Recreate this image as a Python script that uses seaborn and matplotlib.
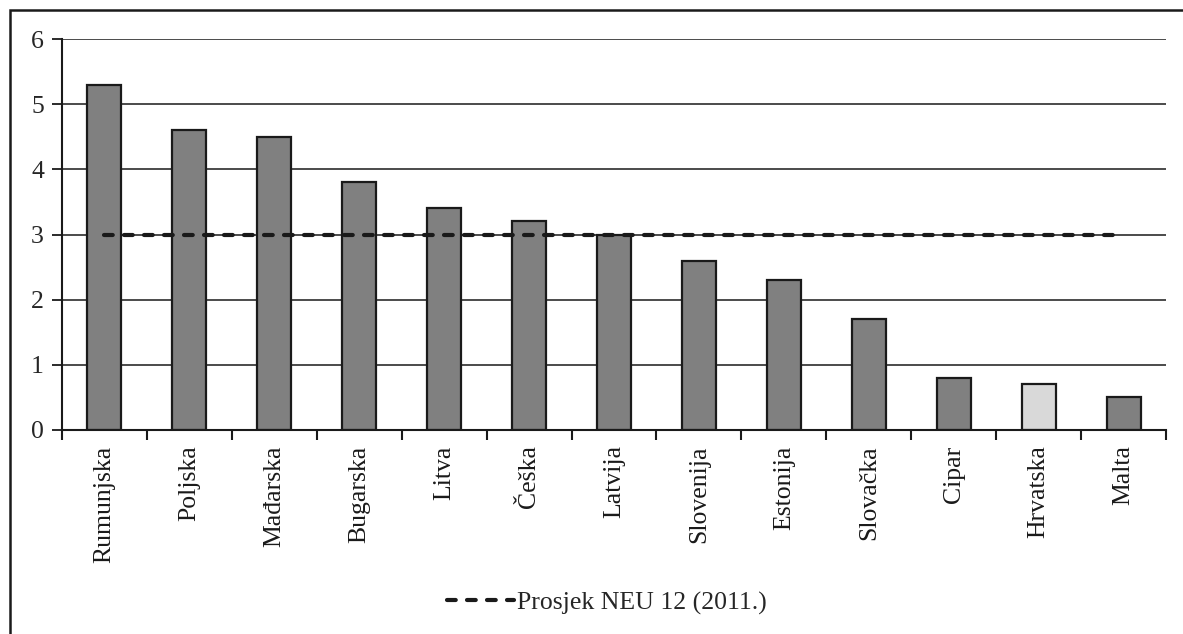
import matplotlib
matplotlib.use("Agg")
import matplotlib.pyplot as plt
import seaborn as sns
import numpy as np
from matplotlib.patches import Rectangle
from matplotlib.ticker import FixedLocator

countries = ["Rumunjska", "Poljska", "Mađarska", "Bugarska", "Litva", "Češka",
             "Latvija", "Slovenija", "Estonija", "Slovačka", "Cipar", "Hrvatska", "Malta"]
values = [5.3, 4.6, 4.5, 3.8, 3.4, 3.2, 3.0, 2.6, 2.3, 1.7, 0.8, 0.7, 0.5]
average = [3.0] * len(countries)
legend_label = "Prosjek NEU 12 (2011.)"
yticks = [0, 1, 2, 3, 4, 5, 6]

sns.set_theme(style="white")
plt.rcParams['font.family'] = ['Liberation Serif', 'DejaVu Serif']
plt.rcParams['font.size'] = 18.5

fig = plt.figure(figsize=(11.83, 6.34), dpi=100)
ax = fig.add_axes([62/1183, 1-430/634, (1166-62)/1183, (430-39)/634])

bar_colors = {c: ("#d9d9d9" if c == "Hrvatska" else "#808080") for c in countries}
sns.barplot(x=countries, y=values, hue=countries, palette=bar_colors, legend=False,
            width=0.4, edgecolor="#1a1a1a", linewidth=1.6, ax=ax, zorder=3)

avg_line, = ax.plot(np.arange(len(countries)), average, color="#1a1a1a", lw=3.0,
                    linestyle=(0, (2.1, 2.7)), dash_capstyle="round", zorder=4,
                    label=legend_label)

ax.set_ylim(0, 6)
ax.set_xlim(-0.5, len(countries) - 0.5)
ax.yaxis.set_major_locator(FixedLocator(yticks))
ax.set_yticklabels([str(t) for t in yticks])
for t in yticks[1:]:
    ax.axhline(t, color="#1a1a1a", lw=1.1, zorder=1)

ax.set_xticks(np.arange(len(countries)))
ax.set_xticklabels(countries, rotation=90, fontsize=18.5)
ax.xaxis.set_minor_locator(FixedLocator(np.arange(-0.5, len(countries), 1.0)))
ax.tick_params(axis="x", which="major", length=0, pad=11, colors="#1a1a1a")
ax.tick_params(axis="x", which="minor", length=7, width=1.5, direction="out",
               color="#1a1a1a", bottom=True)
ax.tick_params(axis="y", which="major", length=7, width=1.3, direction="out",
               color="#1a1a1a", pad=6, labelsize=18.5, left=True)
ax.set_xlabel("")
ax.set_ylabel("")

for s in ["top", "right"]:
    ax.spines[s].set_visible(False)
for s in ["left", "bottom"]:
    ax.spines[s].set_color("#1a1a1a")
    ax.spines[s].set_linewidth(1.5)
    ax.spines[s].set_zorder(5)

leg = fig.legend(handles=[avg_line], labels=[legend_label], loc="center",
                 bbox_to_anchor=(607/1183, 1-603/634), frameon=False,
                 handlelength=2.6, handletextpad=0.1, fontsize=18.5)

fig.patches.append(Rectangle((10/1183, -0.5), 2.0, 1.5 - 10/634,
                             transform=fig.transFigure, fill=False,
                             edgecolor="#1a1a1a", lw=1.8))

fig.savefig("out.png", dpi=100)
